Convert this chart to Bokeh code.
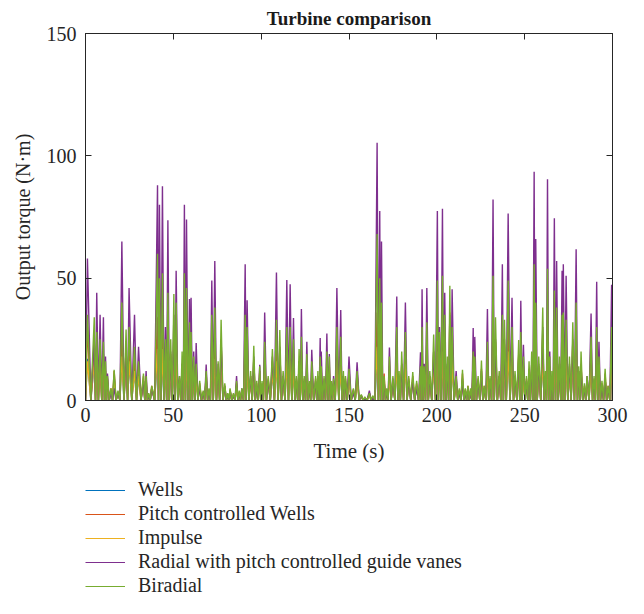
from bokeh.plotting import figure
from bokeh.layouts import column
from bokeh.models import Range1d, LinearAxis, Legend, LegendItem, FixedTicker
from bokeh.embed import file_html
from bokeh.resources import INLINE

series_names = ["Wells", "Pitch controlled Wells", "Impulse",
                "Radial with pitch controlled guide vanes", "Biradial"]
series_colors = ["#0072BD", "#D95319", "#EDB120", "#7E2F8E", "#77AC30"]
x_ticks = [0, 50, 100, 150, 200, 250, 300]
y_ticks = [0, 50, 100, 150]

# time of each torque peak (s)
peak_time = [
    1.1, 5.0, 6.4, 8.3, 10.2, 11.4, 12.5, 14.5, 16.3, 18.5,
    20.7, 23.1, 24.8, 27.9, 30.2, 33.0, 34.5, 36.0, 37.7, 41.0,
    42.1, 43.8, 45.5, 46.9, 48.5, 50.3, 51.6, 53.5, 55.0, 56.3,
    57.5, 59.2, 60.1, 61.6, 63.0, 65.0, 67.0, 68.7, 70.3, 71.9,
    73.6, 75.5, 77.2, 79.3, 81.0, 82.3, 84.2, 86.0, 87.5, 89.0,
    90.9, 92.0, 94.0, 95.8, 97.5, 99.2, 100.5, 102.0, 104.0, 106.4,
    108.7, 110.6, 112.5, 114.6, 116.5, 118.4, 120.0, 121.6, 122.9, 124.5,
    126.0, 127.5, 128.8, 131.0, 132.3, 133.6, 134.2, 135.8, 137.4, 138.8,
    140.0, 141.2, 143.1, 145.3, 146.8, 148.0, 150.0, 152.5, 154.6, 157.0,
    159.0, 161.6, 163.5, 166.0, 167.5, 168.5, 170.0, 171.5, 173.0, 175.0,
    177.2, 178.5, 180.0, 182.1, 184.0, 186.3, 188.5, 190.7, 191.6, 192.8,
    194.3, 196.0, 198.2, 200.3, 201.5, 203.2, 204.5, 206.0, 207.4, 208.7,
    211.0, 212.8, 214.6, 216.2, 217.7, 219.2, 220.7, 221.6, 223.5, 225.4,
    227.0, 228.8, 230.3, 232.0, 233.4, 235.5, 237.3, 238.5, 240.6, 242.8,
    244.5, 246.6, 247.8, 249.3, 251.0, 252.5, 254.0, 255.4, 256.3, 258.0,
    260.3, 261.8, 263.0, 264.3, 265.5, 266.9, 268.2, 269.8, 271.3, 272.0,
    273.6, 275.5, 277.4, 279.3, 280.8, 282.1, 284.0, 285.5, 287.8, 289.5,
    291.0, 292.3, 294.0, 295.8, 297.5, 299.5,
]

# output torque at each peak (N.m)
wells = [
    17, 16, 14, 14, 14, 10, 7, 4, 10, 3,
    17, 15, 16, 12, 10, 8, 7, 2, 5, 18,
    18, 18, 14, 17, 14, 17, 17, 7, 12, 18,
    18, 16, 15, 11, 10, 6, 3, 9, 4, 17,
    17, 10, 16, 5, 2, 4, 2, 6, 3, 4,
    17, 16, 9, 13, 6, 10, 6, 14, 7, 12,
    16, 15, 9, 16, 16, 14, 7, 12, 14, 7,
    11, 6, 10, 7, 8, 11, 9, 7, 12, 11,
    6, 7, 16, 14, 9, 7, 9, 4, 9, 2,
    1, 3, 1.5, 18, 18, 17, 8, 4, 11, 7,
    16, 9, 12, 15, 7, 8, 6, 9, 16, 9,
    16, 9, 15, 18, 15, 18, 17, 11, 18, 16,
    7, 4, 9, 4, 5, 4, 12, 11, 7, 10,
    5, 14, 7, 18, 16, 9, 17, 16, 18, 16,
    9, 14, 15, 11, 7, 10, 12, 18, 17, 11,
    17, 9, 18, 11, 9, 18, 17, 11, 17, 17,
    16, 11, 16, 17, 9, 12, 5, 7, 14, 7,
    16, 11, 6, 9, 5, 16,
]

pitch_wells = [
    30, 24, 20, 19, 19, 12, 9, 5, 12, 3.5,
    28, 22, 24, 16, 13, 10, 9, 2.5, 6, 34,
    32, 33, 19, 29, 19, 28, 28, 9, 15, 32,
    30, 24, 22, 14, 13, 7, 3.5, 11, 4.5, 26,
    27, 12, 23, 6, 2.5, 4.5, 2.5, 7, 3.5, 4.5,
    26, 23, 10, 17, 7, 12, 7, 18, 9, 16,
    25, 21, 10, 24, 24, 19, 9, 16, 20, 9,
    15, 7, 13, 9, 10, 14, 12, 9, 15, 14,
    7, 8, 24, 20, 10, 9, 12, 4.5, 11, 2,
    1.2, 3, 1.5, 36, 31, 28, 11, 4.5, 14, 9,
    23, 10, 15, 22, 9, 10, 7, 12, 24, 12,
    25, 10, 20, 31, 21, 32, 27, 14, 36, 24,
    9, 4.5, 11, 4.5, 6, 4.5, 15, 14, 9, 13,
    6, 18, 9, 32, 24, 10, 26, 23, 31, 23,
    10, 19, 22, 14, 9, 13, 15, 34, 28, 14,
    27, 10, 33, 14, 10, 30, 27, 14, 26, 26,
    25, 14, 24, 28, 12, 15, 6, 9, 20, 9,
    24, 14, 7, 11, 6, 24,
]

impulse = [
    16, 16, 14, 14, 13, 10, 7, 4, 9, 3,
    18, 15, 16, 12, 10, 8, 7, 2, 5, 21,
    20, 21, 14, 19, 14, 18, 18, 7, 12, 20,
    19, 16, 15, 11, 10, 5, 3, 9, 3.5, 17,
    17, 10, 16, 5, 2, 3.5, 2, 6, 3, 4,
    17, 16, 8, 13, 5, 10, 5, 13, 7, 12,
    16, 15, 8, 16, 16, 14, 7, 12, 14, 7,
    11, 5, 10, 7, 8, 11, 9, 7, 12, 11,
    5, 6, 16, 14, 8, 7, 9, 3.5, 8, 2,
    1, 2.5, 1.2, 22, 20, 18, 7, 3.5, 11, 7,
    16, 8, 12, 15, 7, 8, 5, 9, 16, 9,
    16, 8, 14, 20, 15, 20, 17, 11, 19, 16,
    7, 3.5, 8, 3.5, 4, 3.5, 12, 11, 7, 10,
    4, 13, 7, 20, 16, 8, 17, 16, 20, 16,
    8, 14, 15, 11, 7, 10, 12, 21, 18, 11,
    17, 8, 21, 11, 8, 19, 17, 11, 17, 17,
    16, 11, 16, 18, 9, 12, 5, 7, 14, 7,
    16, 11, 5, 9, 4, 16,
]

radial = [
    58, 25, 44, 35, 34, 18, 11, 3, 5, 3,
    65, 22, 46, 35, 22, 8, 12, 2, 5, 88,
    80, 87.6, 30, 73.7, 20, 35, 53, 10, 15, 80,
    74, 41.5, 42, 20, 23.5, 5, 3, 14.7, 3, 49,
    57, 15, 25, 6, 2, 4, 2, 10, 3, 5,
    55.7, 41, 10, 18, 5, 14.6, 5, 36, 8, 18,
    52.3, 22, 10, 49.2, 47.5, 33.7, 8, 16, 37.4, 8,
    24, 5, 20.7, 8, 6, 25.5, 20, 8, 27.4, 19,
    5, 10, 46, 37, 10, 8, 18, 3, 15.6, 2,
    1, 4, 1, 105.3, 77.5, 65, 8, 3, 21.7, 8,
    42.5, 10, 15, 40, 8, 8, 5, 19.7, 45.5, 15,
    46, 10, 20, 77.5, 30, 78.4, 44, 15, 35, 45.5,
    12, 3, 8, 3, 5, 3, 29.6, 26, 8, 12,
    5, 37.4, 8, 82.2, 25, 10, 55.7, 25, 76.4, 42,
    10, 18, 40.8, 22.8, 8, 12, 15, 93.5, 66, 15,
    30, 10, 90.4, 20, 8, 74.5, 57, 15, 53, 55.7,
    51, 15, 25, 61.8, 12, 14, 5, 10, 35.6, 8,
    48.5, 24, 5, 9, 5, 47.3,
]

biradial = [
    35, 34, 28, 25, 24, 16, 10, 5, 12.6, 4,
    40, 29, 30, 22, 16, 11, 10, 3, 6, 60,
    50, 52, 25, 44, 25, 43.5, 40, 10, 20, 52,
    46, 32, 28, 18, 15, 8, 4, 12, 5, 35,
    38, 16, 33, 7, 3, 5, 3, 8, 4, 5,
    35, 30, 12, 22.4, 8, 14, 8, 24, 10, 21,
    33, 28.8, 12, 30, 30, 25, 10, 21, 26, 10,
    19, 8, 16, 10, 12, 18, 14, 10, 20, 18,
    8, 9, 30, 26, 12, 10, 13, 5, 12, 2.5,
    1.5, 3, 2, 68, 50, 40, 10, 5, 18, 10,
    30, 12, 20, 28, 10, 11.6, 8, 14, 30, 14,
    32, 12, 27, 49, 28, 51, 35, 18, 46.9, 30,
    10, 5, 12.6, 5, 6, 5, 20, 18, 10, 16.3,
    6, 24, 10, 51, 34, 12, 35, 33, 49, 30,
    12, 24.7, 28, 18, 10, 16, 20, 55.7, 40, 18,
    38, 12, 53.8, 18, 12, 45, 38, 18, 35, 36,
    33, 18, 32, 40, 14, 20, 7, 10, 26, 10,
    30, 18, 8, 13, 6, 30,
]

all_series = [wells, pitch_wells, impulse, radial, biradial]

FONT = "Liberation Serif"
INK = "#262626"


def build(vals):
    # torque falls back to zero between successive peaks
    ts, vs = [0.0], [0.0]
    n = len(peak_time)
    for i in range(n):
        ts.append(peak_time[i])
        vs.append(vals[i])
        if i < n - 1:
            ts.append((peak_time[i] + peak_time[i + 1]) / 2.0)
            vs.append(0.0)
    ts.append(300.0)
    vs.append(0.0)
    return ts, vs


p = figure(width=628, height=470, x_range=Range1d(0, 300), y_range=Range1d(0, 150),
           output_backend="svg", toolbar_location=None,
           min_border_left=85, min_border_right=16, min_border_top=0,
           min_border_bottom=70)

p.title.text = "Turbine comparison"
p.title.align = "center"
p.title.text_font = FONT
p.title.text_font_size = "19px"
p.title.text_font_style = "bold"
p.title.text_color = "#1a1a1a"
p.title.standoff = 10

p.grid.visible = False
p.outline_line_color = INK
p.outline_line_width = 1
p.background_fill_color = "white"
p.border_fill_color = "white"

for ax in [p.xaxis[0], p.yaxis[0]]:
    ax.major_tick_in = 6
    ax.major_tick_out = 0
    ax.minor_tick_line_color = None
    ax.axis_line_color = INK
    ax.major_tick_line_color = INK
    ax.major_label_text_font = FONT
    ax.major_label_text_font_size = "20px"
    ax.major_label_text_color = INK
    ax.axis_label_text_font = FONT
    ax.axis_label_text_font_style = "normal"
    ax.axis_label_text_color = INK

p.xaxis.ticker = FixedTicker(ticks=x_ticks)
p.yaxis.ticker = FixedTicker(ticks=y_ticks)
p.xaxis.axis_label = "Time (s)"
p.yaxis.axis_label = "Output torque (N\u00b7m)"
p.xaxis.axis_label_text_font_size = "21px"
p.yaxis.axis_label_text_font_size = "20px"
p.xaxis.major_label_standoff = 7
p.xaxis.axis_label_standoff = 14
p.yaxis.major_label_standoff = 9
p.yaxis.axis_label_standoff = 10

top_ax = LinearAxis(ticker=FixedTicker(ticks=x_ticks), major_tick_in=6, major_tick_out=0,
                    minor_tick_line_color=None, axis_line_color=INK,
                    major_tick_line_color=INK, major_label_text_font_size="1px",
                    major_label_text_color=None, major_label_standoff=0)
right_ax = LinearAxis(ticker=FixedTicker(ticks=y_ticks), major_tick_in=6, major_tick_out=0,
                      minor_tick_line_color=None, axis_line_color=INK,
                      major_tick_line_color=INK, major_label_text_font_size="1px",
                      major_label_text_color=None, major_label_standoff=0)
p.add_layout(top_ax, "above")
p.add_layout(right_ax, "right")

for color, vals in zip(series_colors, all_series):
    ts, vs = build(vals)
    p.line(ts, vs, line_color=color, line_width=1.4)

# legend panel below the chart: same series, scrolled out of its view so only the key shows
pl = figure(width=628, height=128, x_range=Range1d(0, 300), y_range=Range1d(1000, 1001),
            output_backend="svg", toolbar_location=None,
            x_axis_type=None, y_axis_type=None,
            min_border_left=0, min_border_right=0, min_border_top=0, min_border_bottom=0)
pl.grid.visible = False
pl.outline_line_color = None
pl.background_fill_color = "white"
pl.border_fill_color = "white"

items = []
for name, color, vals in zip(series_names, series_colors, all_series):
    ts, vs = build(vals)
    r = pl.line(ts, vs, line_color=color, line_width=1.1)
    items.append(LegendItem(label=name, renderers=[r]))

legend = Legend(items=items, location=(0, 1), orientation="vertical",
                label_text_font=FONT, label_text_font_size="20px", label_text_color=INK,
                glyph_width=40, glyph_height=20, label_height=20, label_standoff=13,
                spacing=1, padding=0, margin=0,
                border_line_alpha=0, background_fill_alpha=0)
pl.add_layout(legend, "center")

open("out.html", "w").write(file_html(column(p, pl, spacing=0), INLINE))
